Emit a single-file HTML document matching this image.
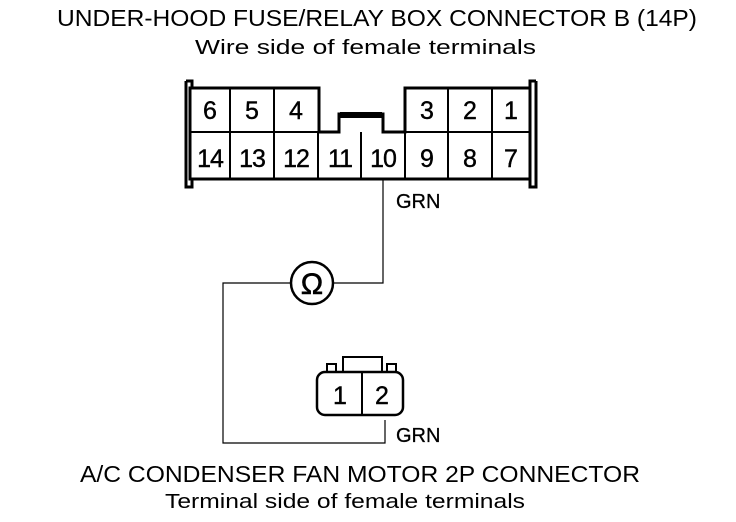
<!DOCTYPE html>
<html><head><style>
html,body{margin:0;padding:0;background:#fff;}
svg{display:block;}
text{font-family:"Liberation Sans",Arial,sans-serif;fill:#000;}
</style></head><body>
<svg width="736" height="522" viewBox="0 0 736 522" xmlns="http://www.w3.org/2000/svg">
<text x="57" y="26" font-size="23" textLength="640" lengthAdjust="spacingAndGlyphs">UNDER-HOOD FUSE/RELAY BOX CONNECTOR B (14P)</text>
<text x="195" y="54" font-size="20" textLength="341" lengthAdjust="spacingAndGlyphs">Wire side of female terminals</text>
<text x="80" y="482" font-size="23" textLength="560" lengthAdjust="spacingAndGlyphs">A/C CONDENSER FAN MOTOR 2P CONNECTOR</text>
<text x="165" y="508" font-size="20" textLength="360" lengthAdjust="spacingAndGlyphs">Terminal side of female terminals</text>

<g fill="none" stroke="#000">
<path d="M186 81 H192 V88 M186 81 V187 H192 V179" stroke-width="3"/>
<path d="M536 81 H530 V88 M536 81 V187 H530 V179" stroke-width="3"/>
<path d="M190 88 H319 V132 H339 V114 H383 V132 H405 V88 H530 V179 H190 Z" stroke-width="3"/>
<path d="M340 115 H382" stroke-width="6"/>
<path d="M190 132 H319 M405 132 H530" stroke-width="2"/>
<path d="M230 88 V179 M274 88 V179 M318 132 V179 M361 132 V179 M405 132 V179 M448 88 V179 M492 88 V179" stroke-width="2"/>
<path d="M383 179 V283 H334 M290 283 H223 V443 H385 V420" stroke-width="1.2"/>
<circle cx="312" cy="283" r="21" stroke-width="2.5"/>
<path d="M343 372 V357 H382 V372" stroke-width="2"/>
<path d="M327 372 V364 H336 V372 M387 372 V364 H396 V372" stroke-width="2"/>
<rect x="317" y="372" width="86" height="43" rx="8" stroke-width="2.5"/>
<path d="M362 372 V415" stroke-width="2"/>
</g>
<text x="312" y="294" font-size="30" text-anchor="middle" stroke="#000" stroke-width="0.6">Ω</text>

<g font-size="25" text-anchor="middle" stroke="#000" stroke-width="0.4">
<text x="210" y="119">6</text><text x="252" y="119">5</text><text x="296" y="119">4</text>
<text x="427" y="119">3</text><text x="470" y="119">2</text><text x="511" y="119">1</text>
<text x="210" y="167" letter-spacing="-1">14</text><text x="252" y="167" letter-spacing="-1">13</text><text x="296" y="167" letter-spacing="-1">12</text>
<text x="340" y="167" letter-spacing="-1">11</text><text x="383" y="167" letter-spacing="-1">10</text><text x="427" y="167">9</text>
<text x="470" y="167">8</text><text x="511" y="167">7</text>
<text x="340" y="404">1</text><text x="382" y="404">2</text>
</g>
<text x="396" y="208" font-size="20" stroke="#000" stroke-width="0.3">GRN</text>
<text x="396" y="442" font-size="20" stroke="#000" stroke-width="0.3">GRN</text>
</svg>
</body></html>
